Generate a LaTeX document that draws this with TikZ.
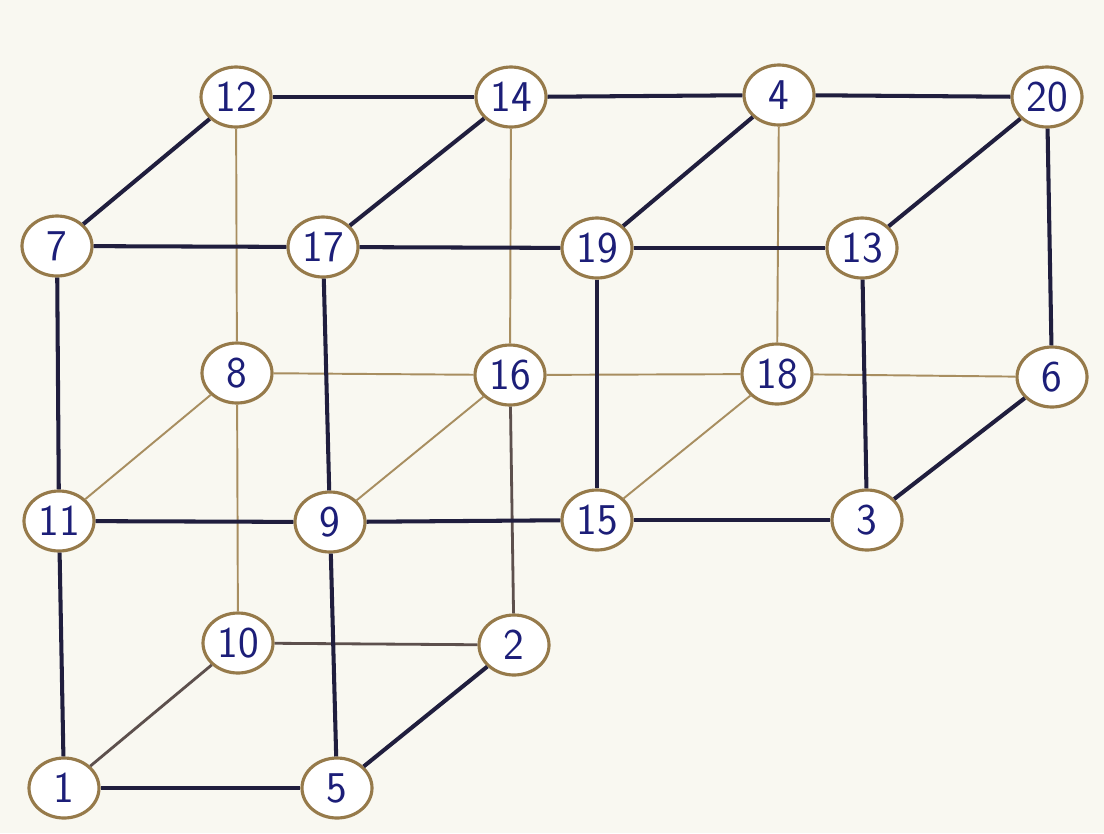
\documentclass[tikz,border=0pt]{standalone}
\usepackage{tikz}
\usetikzlibrary{shapes.geometric}
\usepackage{xcolor}

\definecolor{paper}{RGB}{249,248,241}
\definecolor{ink}{RGB}{32,30,62}
\definecolor{pencil}{RGB}{168,142,96}
\definecolor{rim}{RGB}{150,122,74}
\definecolor{pen}{RGB}{28,30,120}

\begin{document}
\begin{tikzpicture}[x=0.02cm,y=-0.02cm,
  vertex/.style={ellipse,draw=rim,line width=1.8pt,fill=white,
    minimum width=1.4cm,minimum height=1.2cm,inner sep=0pt,
    text=pen,font=\fontsize{25}{29}\selectfont\sffamily},
  front/.style={draw=ink,line width=2.3pt},
  mid/.style={draw=ink!55!pencil,line width=1.6pt},
  back/.style={draw=pencil,line width=1.1pt}]
  % paper
  \fill[paper] (0,0) rectangle (1104,833);
  \useasboundingbox (0,0) rectangle (1104,833);
  % back layer
  \node[vertex] (v12) at (236,97) {12};
  \node[vertex] (v14) at (511,97) {14};
  \node[vertex] (v4) at (779,95) {4};
  \node[vertex] (v20) at (1047,97) {20};
  \node[vertex] (v8) at (237,373) {8};
  \node[vertex] (v16) at (510,375) {16};
  \node[vertex] (v18) at (777,374) {18};
  \node[vertex] (v6) at (1052,377) {6};
  \node[vertex] (v10) at (238,643) {10};
  \node[vertex] (v2) at (514,645) {2};
  % front layer
  \node[vertex] (v7) at (57,246) {7};
  \node[vertex] (v17) at (323,247) {17};
  \node[vertex] (v19) at (597,248) {19};
  \node[vertex] (v13) at (862,248) {13};
  \node[vertex] (v11) at (59,521) {11};
  \node[vertex] (v9) at (330,522) {9};
  \node[vertex] (v15) at (597,520) {15};
  \node[vertex] (v3) at (867,520) {3};
  \node[vertex] (v1) at (64,788) {1};
  \node[vertex] (v5) at (337,788) {5};
  % hidden edges
  \foreach \a/\b in {12/8,8/10,8/11,8/16,16/9,14/16,16/18,18/4,18/15,18/6}
    \draw[back] (v\a) -- (v\b);
  \draw[mid] (v10) -- (v1);
  \draw[mid] (v10) -- (v2);
  \draw[mid] (v16) -- (v2);
  % visible edges
  \foreach \a/\b in {12/14,14/4,4/20,12/7,7/17,17/14,17/19,19/4,19/13,13/20,
      20/6,13/3,19/15,15/3,3/6,7/11,17/9,11/9,9/15,11/1,9/5,1/5,5/2}
    \draw[front] (v\a) -- (v\b);
\end{tikzpicture}
\end{document}
